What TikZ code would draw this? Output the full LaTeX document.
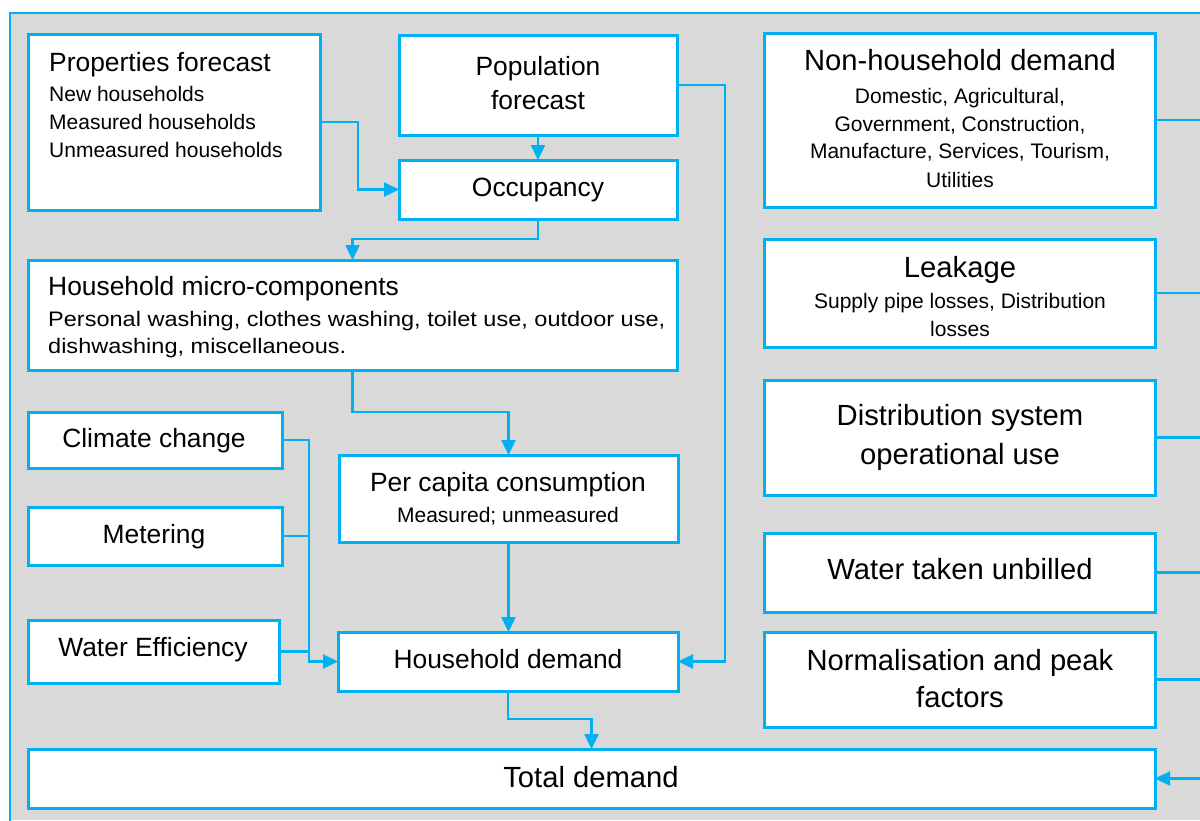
\documentclass[tikz,border=0pt]{standalone}
\usepackage{fontspec}
\setmainfont{Liberation Sans}
\usetikzlibrary{arrows.meta}
\definecolor{cy}{HTML}{00B0F0}
\definecolor{bg}{HTML}{D9D9D9}
\newcommand\bx[5]{\node[box, minimum width={#4-#2}, minimum height={#5-#3}] (#1) at ({(#2+#4)/2},{(#3+#5)/2}) {};}
\begin{document}
\begin{tikzpicture}[x=1pt,y=-1pt,
  box/.style={draw=cy, line width=3pt, fill=white, rectangle, inner sep=0pt, outer sep=0pt},
  conn/.style={draw=cy, line width=2.4pt},
  arr/.style={conn, -{Triangle[length=15pt,width=14pt]}},
  tL/.style={font=\fontsize{26.4}{30}\selectfont, inner sep=0pt, anchor=base},
  tR/.style={font=\fontsize{29.2}{33}\selectfont, inner sep=0pt, anchor=base},
  tS/.style={font=\fontsize{21}{25}\selectfont, inner sep=0pt, anchor=base},
  tSR/.style={font=\fontsize{21}{25}\selectfont, inner sep=0pt, anchor=base}]
\useasboundingbox (0,0) rectangle (1200,820);
\fill[white] (0,0) rectangle (1200,820);
\fill[bg] (10,13) rectangle (1200,820);
\draw[cy, line width=1.5pt] (1210,13) -- (10,13) -- (10,830);
\coordinate (trunk) at (1210,0);
% boxes
\bx{prop}{28}{34}{320}{210}
\bx{pop}{399}{35}{677}{135}
\bx{occ}{399}{160}{677}{219}
\bx{micro}{28}{260}{677}{370}
\bx{clim}{28}{412}{282}{468}
\bx{met}{28}{507}{282}{565}
\bx{weff}{28}{620}{279}{683}
\bx{pcc}{339}{455}{678}{542}
\bx{hhd}{338}{632}{678}{691}
\bx{tot}{28}{749}{1155}{808}
\bx{nhd}{764}{33}{1155}{207}
\bx{leak}{764}{239}{1155}{347}
\bx{dist}{764}{380}{1155}{495}
\bx{wtu}{764}{533}{1155}{612}
\bx{norm}{764}{632}{1155}{727}
% connectors
\draw[arr] (prop.east) -- (358,122) |- (occ.west);
\draw[arr] (pop.south) -- (occ.north);
\draw[arr] (pop.east) -- (725,85) |- (hhd.east);
\draw[arr] (occ.south) -- ++(0,20) -| (micro.north);
\draw[arr] (micro.south) -- ++(0,42) -| (pcc.north);
\draw[arr] (pcc.south) -- (pcc.south |- hhd.north);
\draw[arr] (clim.east) -- (309,440) |- (hhd.west);
\draw[conn] (met.east) -- (309,536);
\draw[conn] (weff.east) -- (309,651.5);
\draw[arr] (hhd.south) -- ++(0,28) -| (tot.north);
\draw[conn] (nhd.east) -- (nhd.east -| trunk);
\draw[conn] (leak.east) -- (leak.east -| trunk);
\draw[conn] (dist.east) -- (dist.east -| trunk);
\draw[conn] (wtu.east) -- (wtu.east -| trunk);
\draw[conn] (norm.east) -- (norm.east -| trunk);
\draw[arr] (tot.east -| trunk) -- (tot.east);
% texts
\node[tL, anchor=base west] (prop1) at (49,71) {Properties forecast};
\node[tS, anchor=base west] (prop2) at (49,101) {New households};
\node[tS, anchor=base west] (prop3) at (49,129) {Measured households};
\node[tS, anchor=base west] (prop4) at (49,157) {Unmeasured households};
\node[tL] (pop1) at (538,75) {Population};
\node[tL] (pop2) at (538,109) {forecast};
\node[tL] (occ1) at (538,196) {Occupancy};
\node[tL, anchor=base west] (mic1) at (48,295) {Household micro-components};
\node[tS, anchor=base west] (mic2) at (48,326) {\scalebox{1.12}[1]{Personal washing, clothes washing, toilet use, outdoor use,}};
\node[tS, anchor=base west] (mic3) at (48,353) {\scalebox{1.12}[1]{dishwashing, miscellaneous.}};
\node[tL] (clim1) at (154,447) {Climate change};
\node[tL] (met1) at (154,543) {Metering};
\node[tL] (weff1) at (153,656) {Water Efficiency};
\node[tL] (pcc1) at (508,491) {Per capita consumption};
\node[tS] (pcc2) at (508,522) {Measured; unmeasured};
\node[tL] (hhd1) at (508,668) {Household demand};
\node[tR] (tot1) at (591,787) {Total demand};
\node[tR] (nhd1) at (960,70) {Non-household demand};
\node[tSR] (nhd2) at (960,103) {Domestic, Agricultural,};
\node[tSR] (nhd3) at (960,131) {Government, Construction,};
\node[tSR] (nhd4) at (960,158) {Manufacture, Services, Tourism,};
\node[tSR] (nhd5) at (960,187) {Utilities};
\node[tR] (leak1) at (960,277) {Leakage};
\node[tSR] (leak2) at (960,308) {Supply pipe losses, Distribution};
\node[tSR] (leak3) at (960,336) {losses};
\node[tR] (dist1) at (960,425) {Distribution system};
\node[tR] (dist2) at (960,464) {operational use};
\node[tR] (wtu1) at (960,579) {Water taken unbilled};
\node[tR] (norm1) at (960,670) {Normalisation and peak};
\node[tR] (norm2) at (960,707) {factors};
\end{tikzpicture}
\end{document}
